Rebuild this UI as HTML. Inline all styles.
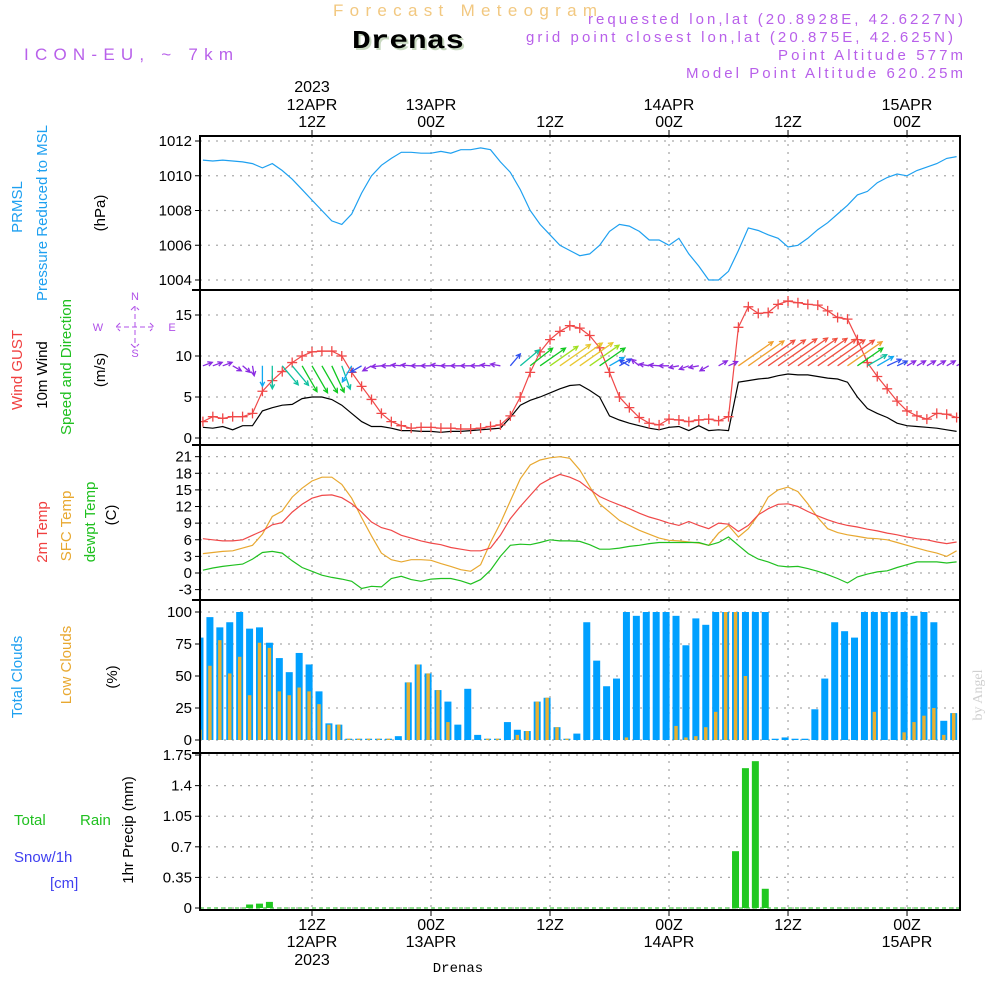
<!DOCTYPE html>
<html><head><meta charset="utf-8"><style>
html,body{margin:0;padding:0;background:#fff;}
svg{display:block;font-family:"Liberation Sans",sans-serif;}
</style></head><body>
<svg id="chart" width="1000" height="1000" viewBox="0 0 1000 1000" xmlns="http://www.w3.org/2000/svg">
<g>
<text x="333" y="16" font-size="17" fill="#f2c880" textLength="264" lengthAdjust="spacing">Forecast Meteogram</text>
<text x="354" y="50" font-size="26" font-weight="bold" font-family="Liberation Mono,monospace" fill="#c8d8c0" textLength="112" lengthAdjust="spacingAndGlyphs">Drenas</text>
<text x="352" y="48" font-size="26" font-weight="bold" font-family="Liberation Mono,monospace" fill="#000" textLength="112" lengthAdjust="spacingAndGlyphs">Drenas</text>
<text x="24" y="60" font-size="17" fill="#b860ea" textLength="209" lengthAdjust="spacing">ICON-EU, ~ 7km</text>
<text x="588" y="24" font-size="15" fill="#b860ea" textLength="375" lengthAdjust="spacing">requested lon,lat (20.8928E, 42.6227N)</text>
<text x="526" y="42" font-size="15" fill="#b860ea" textLength="427" lengthAdjust="spacing">grid point closest lon,lat (20.875E, 42.625N)</text>
<text x="778" y="60" font-size="15" fill="#b860ea" textLength="185" lengthAdjust="spacing">Point Altitude 577m</text>
<text x="686" y="78" font-size="15" fill="#b860ea" textLength="277" lengthAdjust="spacing">Model Point Altitude 620.25m</text>
</g>
<g id="plot"></g>
<g font-size="15" text-anchor="middle">
<text transform="translate(22,207) rotate(-90)" fill="#1ea0f0">PRMSL</text>
<text transform="translate(47,213) rotate(-90)" fill="#1ea0f0">Pressure Reduced to MSL</text>
<text transform="translate(105,213) rotate(-90)" fill="#000">(hPa)</text>
<text transform="translate(22,370) rotate(-90)" fill="#f04040">Wind GUST</text>
<text transform="translate(47,375) rotate(-90)" fill="#000">10m Wind</text>
<text transform="translate(71,367) rotate(-90)" fill="#20c020">Speed and Direction</text>
<text transform="translate(105,370) rotate(-90)" fill="#000">(m/s)</text>
<text transform="translate(47,532) rotate(-90)" fill="#f04040">2m Temp</text>
<text transform="translate(71,526) rotate(-90)" fill="#e8a830">SFC Temp</text>
<text transform="translate(95,522) rotate(-90)" fill="#20c020">dewpt Temp</text>
<text transform="translate(116,515) rotate(-90)" fill="#000">(C)</text>
<text transform="translate(22,677) rotate(-90)" fill="#1ea0f0">Total Clouds</text>
<text transform="translate(71,665) rotate(-90)" fill="#e8a830">Low Clouds</text>
<text transform="translate(117,677) rotate(-90)" fill="#000">(%)</text>
<text transform="translate(133,830) rotate(-90)" fill="#000">1hr Precip (mm)</text>
</g>
<g font-size="15">
<text x="14" y="825" fill="#20c020">Total</text>
<text x="80" y="825" fill="#20c020">Rain</text>
<text x="14" y="862" fill="#4040f0">Snow/1h</text>
<text x="50" y="888" fill="#4040f0">[cm]</text>
</g>
<g fill="#b050e8" stroke="none" font-size="11" text-anchor="middle">
<text x="135" y="300">N</text>
<text x="135" y="357">S</text>
<text x="98" y="331">W</text>
<text x="172" y="331">E</text>
<path d="M116 327 H154 M135 306 V348 M120 323 L116 327 L120 331 M150 323 L154 327 L150 331 M131 310 L135 306 L139 310 M131 344 L135 348 L139 344" stroke="#b050e8" fill="none" stroke-dasharray="5,3"/>
</g>
<text transform="translate(982,695) rotate(-90)" font-size="14" fill="#d0d0d0" text-anchor="middle" font-family="Liberation Serif,serif">by Angel</text>
<text x="458" y="972" font-size="14" fill="#000" text-anchor="middle" font-family="Liberation Mono,monospace">Drenas</text>
</svg>
<script>
const hours = [1,2,3,4,5,6,7,8,9,10,11,12,13,14,15,16,17,18,19,20,21,22,23,24,25,26,27,28,29,30,31,32,33,34,35,36,37,38,39,40,41,42,43,44,45,46,47,48,49,50,51,52,53,54,55,56,57,58,59,60,61,62,63,64,65,66,67,68,69,70,71,72,73,74,75,76,77];
const pressure = [1010.9,1010.85,1010.9,1010.85,1010.8,1010.7,1010.45,1010.7,1010.3,1009.8,1009.2,1008.6,1008.0,1007.4,1007.2,1007.8,1009.0,1010.0,1010.6,1011.0,1011.35,1011.35,1011.3,1011.3,1011.4,1011.3,1011.5,1011.5,1011.6,1011.5,1010.8,1010.2,1009.2,1008.0,1007.2,1006.6,1006.0,1005.7,1005.4,1005.5,1006.0,1006.8,1007.2,1007.1,1006.8,1006.3,1006.3,1006.0,1006.4,1005.5,1004.8,1004.0,1004.0,1004.5,1005.7,1007.0,1006.85,1006.6,1006.4,1005.9,1006.0,1006.4,1006.9,1007.3,1007.8,1008.3,1008.9,1009.1,1009.6,1009.9,1010.1,1010.0,1010.3,1010.5,1010.7,1011.0,1011.1];
const gust = [2.0,2.6,2.4,2.6,2.6,3.0,5.7,7.0,8.1,9.2,10.0,10.5,10.6,10.6,10.0,8.0,6.3,4.7,3.0,2.0,1.5,1.2,1.3,1.3,1.2,1.2,1.1,1.1,1.2,1.4,1.6,2.7,5.0,8.0,10.5,12.0,13.0,13.7,13.4,12.5,11.0,8.0,5.0,3.7,2.5,1.8,1.6,2.3,2.2,2.0,2.2,2.3,2.1,2.6,13.5,16.0,15.2,15.3,16.3,16.7,16.5,16.3,16.2,15.5,14.7,14.5,12.0,9.2,7.5,6.0,4.5,3.3,2.7,2.3,3.0,2.9,2.5];
const wind = [1.3,1.2,1.4,1.0,1.5,1.5,3.3,3.7,4.0,4.1,4.8,5.0,5.0,4.7,4.0,3.0,2.0,1.4,1.4,1.2,0.9,0.9,0.8,0.8,0.7,0.8,0.8,0.9,1.0,1.1,1.2,2.5,4.0,4.6,5.0,5.5,6.0,6.4,6.5,5.8,5.0,2.7,2.2,1.8,1.5,1.2,1.0,1.3,1.4,0.9,1.5,0.9,1.0,0.9,6.8,7.0,7.2,7.3,7.6,7.8,7.7,7.7,7.5,7.3,7.2,6.8,5.0,3.6,3.0,2.5,1.8,1.5,1.4,1.3,1.2,1.0,0.8];
const windDir = [250,250,250,300,310,350,0,0,320,320,330,330,330,335,340,30,60,60,85,90,95,95,90,90,95,90,90,90,90,95,100,220,230,232,235,235,235,235,235,235,235,240,240,120,130,100,95,90,80,70,80,60,240,245,235,235,235,235,235,235,235,235,235,235,235,235,235,240,240,245,245,240,240,240,240,240,240];
const t2m = [6.2,6.0,5.8,5.8,6.0,6.8,7.6,8.7,9.1,11.0,12.4,13.5,14.0,14.1,13.6,12.5,11.0,9.2,8.2,7.7,6.8,6.3,5.8,5.4,5.1,4.6,4.3,4.0,4.0,4.5,6.8,9.8,12.0,14.0,16.0,17.0,17.8,17.3,16.5,15.1,13.8,13.0,12.3,11.6,10.8,10.1,9.6,9.0,8.6,9.3,8.6,8.0,9.0,8.8,7.5,8.6,10.5,11.6,12.4,12.5,12.0,11.1,10.3,9.6,9.0,8.6,8.3,7.9,7.6,7.2,6.9,6.5,6.2,6.0,5.6,5.3,5.6];
const tsfc = [3.5,3.7,3.9,4.0,4.5,5.0,7.0,10.2,11.2,13.7,15.3,16.6,17.3,17.3,16.0,13.5,10.0,6.7,3.6,2.4,2.0,2.4,2.4,2.3,1.7,1.2,0.6,0.3,1.5,5.5,9.0,13.0,17.0,19.5,20.4,20.8,21.0,20.7,18.6,15.6,12.5,11.0,9.5,8.6,7.7,7.0,6.3,5.9,5.8,5.6,5.4,5.0,7.2,8.6,6.5,8.0,10.5,13.7,15.0,15.5,14.7,12.5,10.0,8.0,7.3,6.9,6.6,6.3,6.2,6.0,5.5,5.0,4.5,4.0,3.6,3.0,4.0];
const dewpt = [0.5,0.9,1.2,1.4,1.6,2.5,3.7,3.9,3.6,2.2,1.0,0.3,-0.4,-0.8,-1.1,-1.5,-2.8,-2.4,-2.5,-1.0,-0.6,-1.2,-1.5,-1.1,-1.0,-1.0,-1.4,-2.0,-1.2,0.5,3.0,5.0,5.2,5.1,5.5,6.0,5.8,5.8,5.7,5.1,4.3,4.3,4.5,4.8,5.0,5.3,5.5,5.5,5.5,5.5,5.5,5.0,5.5,6.5,5.0,3.5,2.5,2.0,1.3,1.1,1.2,0.8,0.3,-0.3,-1.0,-1.8,-0.7,-0.2,0.2,0.4,1.0,1.5,2.0,2.0,2.0,1.8,2.0];
const totalClouds = [80,96,88,92,100,87,88,76,64,53,68,59,38,13,12,1,1,1,1,1,3,45,59,52,39,30,12,40,4,1,1,14,8,7,30,33,10,1,5,92,62,42,48,100,97,100,100,100,97,74,95,90,100,100,100,100,100,100,1,2,1,1,24,48,92,85,80,100,100,100,100,100,97,100,92,15,21];
const lowClouds = [8,58,78,52,65,35,76,72,38,35,41,38,28,12,12,1,1,1,1,1,0,45,59,52,39,14,0,0,0,1,1,0,4,7,30,33,10,1,0,0,0,0,0,2,0,0,0,0,11,2,3,10,22,100,100,50,0,0,0,0,0,0,0,0,0,0,0,0,22,0,0,6,14,19,25,4,21];
const precip = [0,0,0,0,0,0.04,0.05,0.07,0,0,0,0,0,0,0,0,0,0,0,0,0,0,0,0,0,0,0,0,0,0,0,0,0,0,0,0,0,0,0,0,0,0,0,0,0,0,0,0,0,0,0,0,0,0,0.65,1.6,1.68,0.22,0,0,0,0,0,0,0,0,0,0,0,0,0,0,0,0,0,0,0,0];
const pTicks = [1004,1006,1008,1010,1012];
const wTicks = [0,5,10,15];
const tTicks = [-3,0,3,6,9,12,15,18,21];
const cTicks = [0,25,50,75,100];
const rTicks = [0,0.35,0.7,1.05,1.4,1.75];
const rTickLabels = ["0","0.35","0.7","1.05","1.4","1.75"];
const timeHours = [12,24,36,48,60,72];
const topLab1 = ["2023","","","","",""];
const topLab2 = ["12APR","13APR","","14APR","","15APR"];
const topLab3 = ["12Z","00Z","12Z","00Z","12Z","00Z"];
const botLab1 = ["12Z","00Z","12Z","00Z","12Z","00Z"];
const botLab2 = ["12APR","13APR","","14APR","","15APR"];
const botLab3 = ["2023","","","","",""];

const NS="http://www.w3.org/2000/svg";
const X0=200,X1=960,DX=9.917;
const xT = t => 312 + (t-12)*DX;
const xB = k => 200 + k*DX;
const yP = p => 280 - (p-1004)*17.375;
const yW = v => 438 - v*8.2;
const yT = v => 573 - v*5.54;
const yC = v => 740 - v*1.28;
const yR = v => 908 - v*87.4;
const plot=document.getElementById('plot');
function mk(tag,attrs,parent){const e=document.createElementNS(NS,tag);for(const k in attrs)e.setAttribute(k,attrs[k]);(parent||plot).appendChild(e);return e;}

const panels=[[136,290,yP,pTicks,pTicks.map(String)],[290,445,yW,wTicks,wTicks.map(String)],[445,600,yT,tTicks,tTicks.map(String)],[600,753,yC,cTicks,cTicks.map(String)],[753,910,yR,rTicks,rTickLabels]];
const panelNames=['pressure','wind','temp','clouds','precip'];
const defs=mk('defs',{});
const cp=mk('clipPath',{id:'clip'},defs);
mk('rect',{x:X0,y:136,width:X1-X0,height:774},cp);

panels.forEach((p,i)=>{
  const g=mk('g',{});
  
  
  p[3].forEach((v,j)=>{
    const y=p[2](v);
    const gl=mk('line',{x1:X0,x2:X1,y1:y,y2:y,stroke:'#aaa','stroke-dasharray':'2,6','stroke-width':1.3},g);
    
    
    const tk=mk('line',{x1:X0-5,x2:X0,y1:y,y2:y,stroke:'#000'},g);
    
    
    const tx=mk('text',{x:X0-8,y:y+5,'font-size':15,'text-anchor':'end',fill:'#000'},g);
    
    
    tx.textContent=p[4][j];
  });
  timeHours.forEach(t=>{
    const vl=mk('line',{x1:xT(t),x2:xT(t),y1:p[0],y2:p[1],stroke:'#aaa','stroke-dasharray':'2,6','stroke-width':1.3},g);
    
    
  });
});

function line(arr,yf,color,name,w){
  const d=arr.map((v,i)=>(i?'L':'M')+xT(hours[i]).toFixed(1)+' '+yf(v).toFixed(1)).join(' ');
  const e=mk('path',{d:d,fill:'none',stroke:color,'stroke-width':w||1.2,'clip-path':'url(#clip)'});
  
  
}
line(pressure,yP,'#1ea0f0','pressure-line');
line(wind,yW,'#000','wind-speed-line');
line(gust,yW,'#f04848','gust-line');
gust.forEach((v,i)=>{
  const x=xT(hours[i]),y=yW(v);
  const m=mk('path',{d:`M${x-5} ${y} H${x+5} M${x} ${y-5} V${y+5}`,stroke:'#f04848','stroke-width':1.3,'clip-path':'url(#clip)'});
  
  
});
function windColor(s){
  if(s<1.6)return '#8a2be2';
  if(s<2.6)return '#3050f0';
  if(s<3.5)return '#10a8f0';
  if(s<4.3)return '#10c0a0';
  if(s<5.2)return '#10c820';
  if(s<5.9)return '#a0e020';
  if(s<6.6)return '#e8c830';
  if(s<7.2)return '#f0a030';
  return '#f05040';
}
wind.forEach((s,i)=>{
  const x=xT(hours[i]),y=yW(8.8);
  const to=(windDir[i]+180)*Math.PI/180;
  const L=Math.max(10,s*6.2);
  const ux=Math.sin(to),uy=-Math.cos(to);
  const x2=x+ux*L,y2=y+uy*L;
  const a1=to+Math.PI*0.85,a2=to-Math.PI*0.85;
  const c=windColor(s);
  const d=`M${x.toFixed(1)} ${y.toFixed(1)} L${x2.toFixed(1)} ${y2.toFixed(1)} M${(x2+Math.sin(a1)*5).toFixed(1)} ${(y2-Math.cos(a1)*5).toFixed(1)} L${x2.toFixed(1)} ${y2.toFixed(1)} L${(x2+Math.sin(a2)*5).toFixed(1)} ${(y2-Math.cos(a2)*5).toFixed(1)}`;
  const e=mk('path',{d:d,stroke:c,fill:'none','stroke-width':1.3,'clip-path':'url(#clip)'});
  
  
});
line(tsfc,yT,'#e8a830','sfc-temp-line');
line(t2m,yT,'#f04848','t2m-line');
line(dewpt,yT,'#20c020','dewpt-line');
totalClouds.forEach((v,k)=>{
  const x=xB(k);
  const b=mk('rect',{x:x-3.5,y:yC(v),width:7,height:740-yC(v),fill:'#00a0ff','clip-path':'url(#clip)'});
  
  
  const o=mk('rect',{x:x-1.7,y:yC(lowClouds[k]),width:3.4,height:740-yC(lowClouds[k]),fill:'#e8b030','clip-path':'url(#clip)'});
  
  
});
const pl=mk('line',{x1:X0,x2:X1,y1:908,y2:908,stroke:'#20c020','stroke-dasharray':'4,3'});


precip.forEach((v,k)=>{
  if(v<=0)return;
  const x=xB(k);
  const b=mk('rect',{x:x-3.5,y:yR(v),width:7,height:908-yR(v),fill:'#20c820'});
  
  
});
const fr=mk('path',{d:`M${X0} 136 H${X1} V910 H${X0} Z`,fill:'none',stroke:'#000','stroke-width':2});


[290,445,600,753].forEach(y=>{
  const s=mk('line',{x1:X0-8,x2:X1,y1:y,y2:y,stroke:'#000','stroke-width':2});
  
  
});
timeHours.forEach((t,i)=>{
  const x=xT(t);
  const tk=mk('line',{x1:x,x2:x,y1:130,y2:136,stroke:'#000'});
  
  
  const bk=mk('line',{x1:x,x2:x,y1:910,y2:916,stroke:'#000'});
  
  
  [[topLab1[i],92],[topLab2[i],110],[topLab3[i],127],[botLab1[i],930],[botLab2[i],947],[botLab3[i],965]].forEach(([s,y])=>{
    if(!s)return;
    const tx=mk('text',{x:x,y:y,'font-size':16,'text-anchor':'middle',fill:'#000'});
    
    
    tx.textContent=s;
  });
});
</script>
</body></html>
